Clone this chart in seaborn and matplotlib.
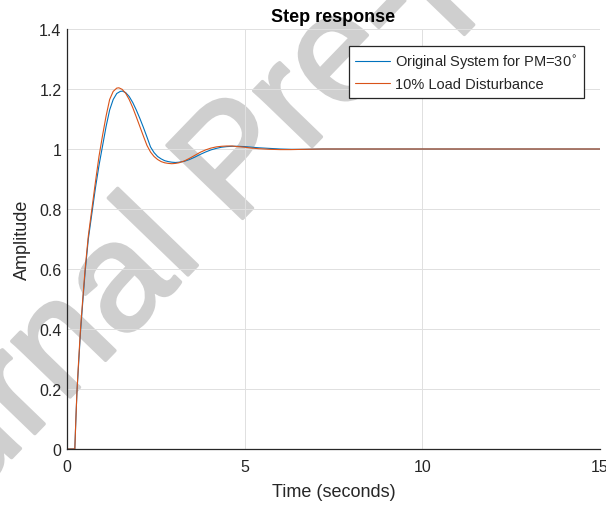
import numpy as np
import pandas as pd
import matplotlib
matplotlib.use("Agg")
import matplotlib.pyplot as plt
import matplotlib.patheffects as pe
import seaborn as sns

# ---- data ----
t_orig = [0, 0.22, 0.25, 0.28, 0.33, 0.38, 0.45, 0.51, 0.6, 0.7, 0.8, 0.9, 1.0, 1.1, 1.2, 1.3, 1.4, 1.5,
          1.56, 1.65, 1.75, 1.85, 1.95, 2.05, 2.15, 2.25, 2.35, 2.45, 2.55, 2.65, 2.75, 2.85, 2.95, 3.05,
          3.15, 3.3, 3.45, 3.6, 3.75, 3.9, 4.05, 4.2, 4.35, 4.5, 4.65, 4.8, 5.0, 5.2, 5.4, 5.7, 6.0,
          6.3, 6.7, 7.2, 8, 15]
y_orig = [0, 0, 0.10, 0.19, 0.29, 0.39, 0.50, 0.59, 0.70, 0.785, 0.87, 0.945, 1.01, 1.075, 1.13, 1.165,
          1.185, 1.192, 1.193, 1.188, 1.175, 1.155, 1.13, 1.102, 1.072, 1.04, 1.007, 0.988, 0.975, 0.967,
          0.961, 0.958, 0.956, 0.955, 0.956, 0.959, 0.965, 0.973, 0.982, 0.990, 0.997, 1.002, 1.006,
          1.008, 1.009, 1.009, 1.008, 1.006, 1.004, 1.002, 1.000, 0.999, 0.999, 1.0, 1.0, 1.0]

t_dist = [0, 0.22, 0.25, 0.28, 0.33, 0.38, 0.45, 0.51, 0.6, 0.7, 0.8, 0.9, 1.0, 1.1, 1.2, 1.3, 1.4, 1.46,
          1.55, 1.65, 1.75, 1.85, 1.95, 2.05, 2.15, 2.25, 2.35, 2.45, 2.55, 2.65, 2.75, 2.85, 2.95, 3.05,
          3.15, 3.3, 3.45, 3.6, 3.75, 3.9, 4.05, 4.2, 4.35, 4.5, 4.65, 4.8, 5.0, 5.2, 5.4, 5.7, 6.0,
          6.3, 6.7, 7.2, 8, 15]
y_dist = [0, 0, 0.10, 0.19, 0.30, 0.40, 0.51, 0.60, 0.71, 0.80, 0.89, 0.975, 1.045, 1.11, 1.165, 1.192,
          1.203, 1.204, 1.199, 1.186, 1.165, 1.138, 1.107, 1.075, 1.043, 1.012, 0.990, 0.975, 0.965,
          0.958, 0.954, 0.952, 0.951, 0.952, 0.954, 0.960, 0.969, 0.979, 0.989, 0.997, 1.003, 1.007,
          1.009, 1.010, 1.010, 1.008, 1.006, 1.003, 1.001, 0.999, 0.998, 0.998, 0.999, 1.0, 1.0, 1.0]

series_names = ["Original System for PM=30$^{\\circ}$", "10% Load Disturbance"]
series_colors = ["#0072BD", "#D95319"]
x_ticks = [0, 5, 10, 15]
y_ticks = [0, 0.2, 0.4, 0.6, 0.8, 1.0, 1.2, 1.4]
y_ticklabels = ["0", "0.2", "0.4", "0.6", "0.8", "1", "1.2", "1.4"]
watermark = "Journal Pre-proof"

df = pd.concat([
    pd.DataFrame({"t": t_orig, "y": y_orig, "s": series_names[0]}),
    pd.DataFrame({"t": t_dist, "y": y_dist, "s": series_names[1]}),
], ignore_index=True)

sns.set_theme(style="white")
plt.rcParams["font.family"] = ["Liberation Sans", "DejaVu Sans"]

fig = plt.figure(figsize=(6.06, 5.06), dpi=100)
ax = fig.add_axes([67 / 606, 56 / 506, 533 / 606, 420 / 506])

sns.lineplot(data=df, x="t", y="y", hue="s", hue_order=series_names,
             palette=series_colors, linewidth=0.8, ax=ax, sort=False, estimator=None)

ax.set_xlim(0, 15)
ax.set_ylim(0, 1.4)
ax.set_xticks(x_ticks)
ax.set_xticklabels([str(v) for v in x_ticks])
ax.set_yticks(y_ticks)
ax.set_yticklabels(y_ticklabels)
ax.grid(True, color="#e0e0e0", linewidth=0.7)
ax.set_axisbelow(True)
for side in ["top", "right"]:
    ax.spines[side].set_visible(False)
for side in ["left", "bottom"]:
    ax.spines[side].set_color("#262626")
    ax.spines[side].set_linewidth(0.9)
ax.tick_params(axis="both", direction="in", length=4, width=0.9, color="#262626",
               labelsize=11.5, labelcolor="#262626", pad=4)
ax.tick_params(axis="x", pad=7)

ax.set_xlabel("Time (seconds)", fontsize=13, color="#262626", labelpad=7)
ax.set_ylabel("Amplitude", fontsize=13, color="#262626", labelpad=6)
ax.set_title("Step response", fontsize=13, fontweight="bold", color="black", pad=6)

leg = ax.legend(loc="upper right", bbox_to_anchor=(0.970, 0.9595), borderaxespad=0,
                fontsize=10.5, frameon=True, fancybox=False, framealpha=1,
                handlelength=2.4, handletextpad=0.35, borderpad=0.45, labelspacing=0.45)
leg.get_frame().set_edgecolor("#262626")
leg.get_frame().set_linewidth(0.9)
leg.set_zorder(5)

# watermark: light grey, under grid, labels and curves
wm_color = "#cfcfcf"
ax.text(238 / 606, 1 - 168 / 506, watermark, transform=fig.transFigure, clip_on=False,
        fontsize=110, fontweight="normal", color=wm_color,
        rotation=46, ha="center", va="center", zorder=0.4,
        path_effects=[pe.withStroke(linewidth=2.5, foreground=wm_color)])

fig.savefig("out.png", dpi=100)
